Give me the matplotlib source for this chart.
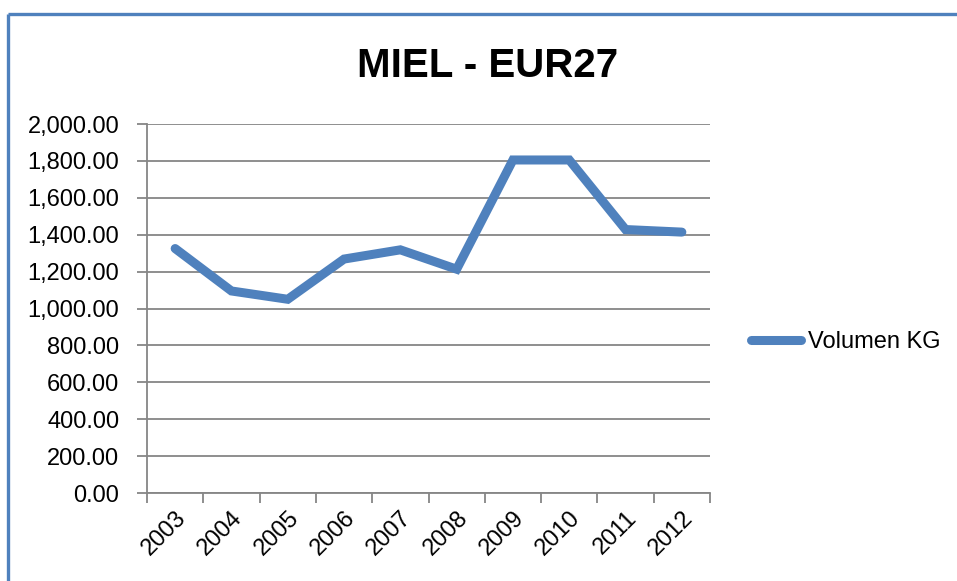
import matplotlib
matplotlib.use("Agg")
import matplotlib.pyplot as plt
from matplotlib.lines import Line2D
from matplotlib.ticker import FuncFormatter, FixedLocator

# data
years = ["2003", "2004", "2005", "2006", "2007", "2008", "2009", "2010", "2011", "2012"]
volumen_kg = [1325, 1095, 1050, 1268, 1318, 1213, 1805, 1805, 1428, 1414]
y_ticks = [0, 200, 400, 600, 800, 1000, 1200, 1400, 1600, 1800, 2000]

title = "MIEL - EUR27"
series_label = "Volumen KG"

W, H = 957, 581
plt.rcParams['font.family'] = ['Liberation Sans', 'DejaVu Sans']

fig = plt.figure(figsize=(W / 100, H / 100), dpi=100)
fig.patch.set_facecolor("white")

# frame of the chart area (only left and top edges visible)
blue_frame = "#4F81BD"
fig.add_artist(Line2D([8 / W, 8 / W], [0, 1 - 14 / H], color=blue_frame, lw=2.4,
                      transform=fig.transFigure, solid_capstyle="butt"))
fig.add_artist(Line2D([8 / W, 1], [1 - 14 / H, 1 - 14 / H], color=blue_frame, lw=2.4,
                      transform=fig.transFigure, solid_capstyle="butt"))

ax = fig.add_axes([147 / W, (H - 493) / H, (710 - 147) / W, (493 - 124) / H])

x = list(range(len(years)))
ax.plot(x, volumen_kg, color="#4F81BD", lw=6.5, solid_capstyle="round",
        solid_joinstyle="miter", label=series_label, zorder=3)

grid_c = "#868686"
ax.set_xlim(-0.5, len(years) - 0.5)
ax.set_ylim(0, 2000)
ax.set_yticks(y_ticks)
ax.yaxis.set_major_formatter(FuncFormatter(lambda v, p: f"{v:,.2f}"))
ax.grid(axis="y", color=grid_c, lw=1.3)
ax.set_axisbelow(True)

ax.set_xticks(x)
ax.set_xticklabels(years, rotation=45, ha="right", rotation_mode="anchor")
ax.xaxis.set_minor_locator(FixedLocator([i - 0.5 for i in range(len(years) + 1)]))
ax.tick_params(axis="x", which="major", length=0, pad=10, labelsize=17)
ax.tick_params(axis="x", which="minor", length=7, width=1.3, color=grid_c, direction="out")
ax.tick_params(axis="y", length=7, width=1.3, color=grid_c, pad=13, labelsize=17)

for s in ["top", "right"]:
    ax.spines[s].set_visible(False)
for s in ["left", "bottom"]:
    ax.spines[s].set_color(grid_c)
    ax.spines[s].set_linewidth(1.3)

fig.text(488 / W, 1 - 77 / H, title, ha="center", va="baseline",
         fontsize=29, fontweight="bold")

ax.legend(loc="center left", bbox_to_anchor=(751 / W, 1 - 342 / H),
          bbox_transform=fig.transFigure, frameon=False, fontsize=17,
          handlelength=2.1, handletextpad=0.3, borderpad=0, borderaxespad=0)

fig.savefig("out.png", dpi=100)
